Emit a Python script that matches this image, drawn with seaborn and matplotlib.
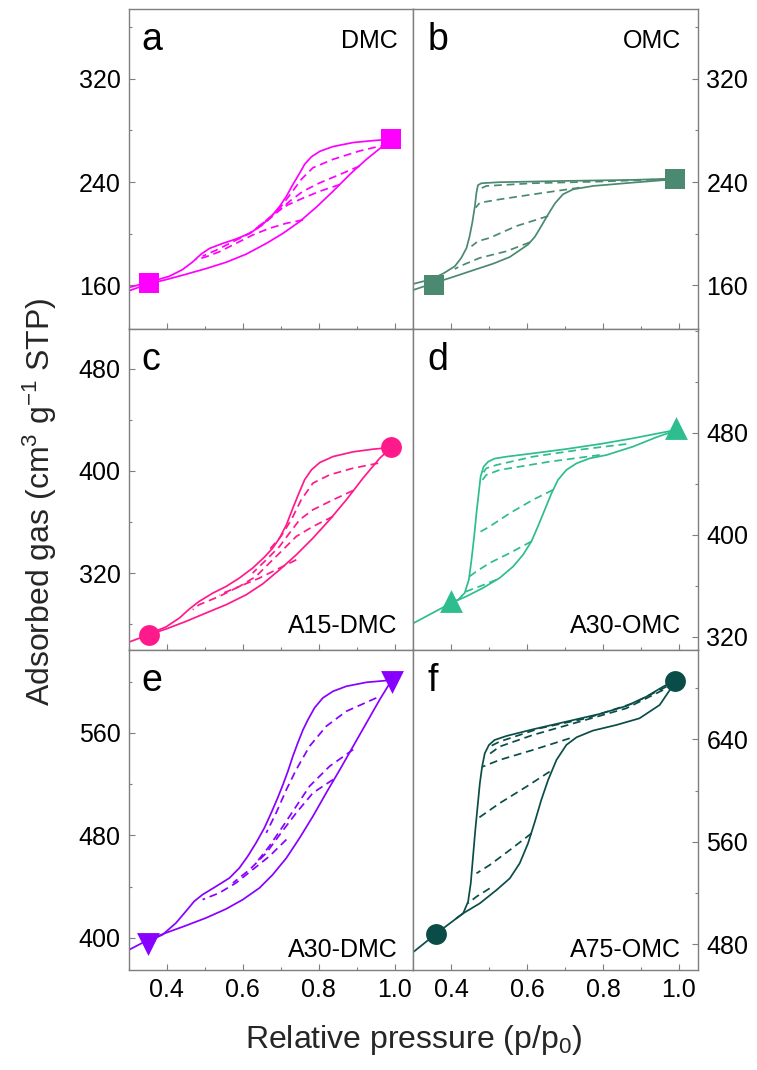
import matplotlib
matplotlib.use("Agg")
import matplotlib.pyplot as plt
import seaborn as sns
from matplotlib.ticker import MultipleLocator, FixedLocator, FormatStrFormatter

# ---------------- data ----------------
# (a) DMC
a_ads_p = [0.298, 0.352, 0.397, 0.450, 0.503, 0.556, 0.609, 0.662, 0.706, 0.750, 0.794, 0.838, 0.882, 0.926, 0.961, 0.992]
a_ads_v = [155.6, 161.3, 164.4, 168.6, 173.0, 177.9, 184.2, 192.5, 200.3, 209.4, 220.6, 232.9, 245.9, 257.6, 265.9, 273.2]
a_des_p = [0.992, 0.944, 0.891, 0.838, 0.803, 0.781, 0.763, 0.748, 0.732, 0.715, 0.697, 0.675, 0.648, 0.618, 0.582, 0.547, 0.512, 0.490, 0.468, 0.441, 0.406, 0.353, 0.298]
a_des_v = [273.2, 272.1, 270.6, 267.5, 263.8, 259.6, 253.7, 245.9, 238.1, 229.0, 221.1, 213.3, 206.1, 200.3, 195.9, 192.5, 188.6, 184.2, 178.2, 172.2, 167.0, 162.6, 158.2]
a_s1_p = [0.983, 0.908, 0.838, 0.785, 0.754, 0.728, 0.701, 0.670, 0.635]
a_s1_v = [269.3, 264.1, 257.6, 251.1, 242.0, 231.6, 221.1, 212.0, 204.2]
a_s2_p = [0.908, 0.856, 0.803, 0.759, 0.723, 0.688, 0.657, 0.626, 0.591]
a_s2_v = [252.4, 245.9, 239.4, 232.9, 225.0, 215.9, 208.1, 201.6, 196.4]
a_s3_p = [0.856, 0.803, 0.759, 0.719, 0.684, 0.653, 0.618, 0.574, 0.530, 0.494]
a_s3_v = [238.1, 232.9, 227.6, 222.4, 215.9, 208.1, 200.3, 193.8, 187.3, 182.6]
a_s4_p = [0.759, 0.715, 0.670, 0.626, 0.582, 0.538, 0.503, 0.477]
a_s4_v = [210.7, 208.1, 204.2, 199.0, 192.5, 186.0, 182.1, 180.0]
a_mk_p = [0.352, 0.992]
a_mk_v = [161.8, 273.7]

# (b) OMC
b_ads_p = [0.301, 0.354, 0.404, 0.457, 0.510, 0.554, 0.580, 0.602, 0.620, 0.637, 0.655, 0.673, 0.694, 0.721, 0.774, 0.879, 0.990]
b_ads_v = [156.6, 161.8, 166.5, 171.7, 176.8, 182.0, 187.2, 191.6, 197.6, 205.9, 215.0, 223.5, 230.5, 234.4, 237.0, 239.6, 242.2]
b_des_p = [0.990, 0.879, 0.703, 0.527, 0.479, 0.470, 0.466, 0.462, 0.455, 0.448, 0.440, 0.426, 0.409, 0.378, 0.343, 0.301]
b_des_v = [242.7, 241.7, 240.9, 239.9, 239.1, 237.6, 231.8, 221.5, 208.5, 198.1, 189.0, 181.3, 174.8, 169.1, 164.4, 161.3]
b_s1_p = [0.967, 0.791, 0.615, 0.492, 0.473]
b_s1_v = [242.2, 240.4, 239.1, 237.0, 234.4]
b_s2_p = [0.738, 0.615, 0.527, 0.475, 0.464]
b_s2_v = [235.7, 230.5, 226.6, 224.0, 220.2]
b_s3_p = [0.655, 0.571, 0.501, 0.470, 0.453]
b_s3_v = [213.7, 205.9, 196.8, 194.2, 190.3]
b_s4_p = [0.607, 0.545, 0.475, 0.422, 0.409]
b_s4_v = [193.4, 186.4, 181.3, 174.8, 172.7]
b_mk_p = [0.354, 0.990]
b_mk_v = [160.0, 242.2]

# (c) A15-DMC
c_ads_p = [0.298, 0.352, 0.397, 0.450, 0.503, 0.556, 0.609, 0.653, 0.697, 0.741, 0.785, 0.829, 0.873, 0.917, 0.961, 0.990]
c_ads_v = [265.7, 271.7, 276.1, 282.1, 288.7, 295.2, 303.0, 311.6, 322.6, 334.3, 347.4, 361.8, 377.4, 394.4, 410.0, 417.9]
c_des_p = [0.990, 0.944, 0.891, 0.838, 0.803, 0.781, 0.763, 0.748, 0.732, 0.715, 0.697, 0.679, 0.657, 0.626, 0.591, 0.556, 0.521, 0.485, 0.459, 0.433, 0.397, 0.352]
c_des_v = [418.4, 417.1, 415.0, 411.3, 406.6, 400.9, 393.1, 382.6, 370.9, 357.8, 347.4, 339.6, 332.5, 323.9, 316.1, 309.5, 304.3, 297.8, 291.8, 284.8, 277.7, 272.5]
c_s1_p = [0.957, 0.891, 0.829, 0.785, 0.754, 0.728, 0.701, 0.670]
c_s1_v = [406.1, 402.2, 397.0, 390.5, 377.4, 361.8, 348.9, 338.3]
c_s2_p = [0.891, 0.838, 0.785, 0.750, 0.723, 0.697, 0.662, 0.626]
c_s2_v = [384.7, 377.4, 369.6, 361.8, 351.3, 340.9, 330.4, 320.0]
c_s3_p = [0.838, 0.785, 0.741, 0.706, 0.670, 0.635, 0.591, 0.538]
c_s3_v = [364.4, 356.5, 348.7, 338.3, 327.8, 317.4, 309.5, 303.0]
c_s4_p = [0.741, 0.697, 0.644, 0.591, 0.538, 0.485, 0.468]
c_s4_v = [330.4, 323.9, 316.1, 309.5, 301.7, 295.2, 291.3]
c_mk_p = [0.352, 0.990]
c_mk_v = [271.7, 418.4]

# (d) A30-OMC
d_ads_p = [0.301, 0.400, 0.440, 0.483, 0.527, 0.563, 0.589, 0.611, 0.628, 0.646, 0.664, 0.681, 0.703, 0.730, 0.765, 0.809, 0.879, 0.940, 0.991]
d_ads_v = [330.9, 346.6, 351.8, 358.3, 366.1, 375.2, 384.4, 394.8, 406.5, 419.5, 432.6, 443.0, 450.8, 456.0, 459.9, 462.5, 469.1, 476.4, 481.6]
d_des_p = [0.991, 0.932, 0.879, 0.791, 0.703, 0.615, 0.545, 0.514, 0.497, 0.485, 0.477, 0.472, 0.466, 0.460, 0.453, 0.446, 0.435, 0.418, 0.400]
d_des_v = [482.1, 478.7, 475.6, 471.1, 467.2, 463.8, 461.2, 459.7, 457.3, 453.4, 445.6, 432.6, 416.9, 398.7, 380.5, 364.8, 354.4, 349.2, 346.6]
d_s1_p = [0.861, 0.747, 0.615, 0.519, 0.492, 0.483]
d_s1_v = [471.1, 467.0, 461.2, 454.7, 452.1, 448.2]
d_s2_p = [0.791, 0.659, 0.527, 0.492, 0.482]
d_s2_v = [462.5, 457.3, 450.8, 446.9, 443.0]
d_s3_p = [0.668, 0.615, 0.554, 0.501, 0.470]
d_s3_v = [435.2, 427.4, 416.9, 406.5, 401.3]
d_s4_p = [0.611, 0.554, 0.501, 0.466, 0.448]
d_s4_v = [394.8, 385.7, 377.9, 371.3, 367.4]
d_s5_p = [0.519, 0.475, 0.440, 0.426]
d_s5_v = [364.8, 359.6, 355.7, 351.8]
d_mk_p = [0.400, 0.993]
d_mk_v = [347.9, 483.4]

# (e) A30-DMC
e_ads_p = [0.298, 0.352, 0.397, 0.450, 0.503, 0.556, 0.600, 0.644, 0.679, 0.715, 0.750, 0.785, 0.820, 0.856, 0.891, 0.926, 0.961, 0.988]
e_ads_v = [390.4, 398.7, 403.9, 409.6, 415.6, 422.6, 429.9, 439.0, 449.4, 462.4, 478.1, 495.0, 513.2, 531.4, 549.6, 567.8, 586.0, 599.0]
e_des_p = [0.988, 0.926, 0.873, 0.838, 0.811, 0.789, 0.772, 0.759, 0.745, 0.732, 0.719, 0.706, 0.692, 0.675, 0.657, 0.635, 0.613, 0.591, 0.565, 0.530, 0.494, 0.472, 0.450, 0.424, 0.389, 0.352]
e_des_v = [601.1, 599.5, 596.4, 592.5, 587.3, 579.5, 570.4, 562.6, 552.2, 541.8, 530.1, 519.7, 509.3, 497.6, 485.9, 474.2, 463.7, 454.6, 446.8, 440.3, 433.8, 428.6, 420.8, 411.7, 402.6, 397.4]
e_s1_p = [0.952, 0.873, 0.820, 0.776, 0.741, 0.715, 0.688, 0.662]
e_s1_v = [587.3, 576.9, 565.2, 549.6, 531.4, 515.8, 497.6, 482.0]
e_s2_p = [0.891, 0.829, 0.776, 0.741, 0.706, 0.670, 0.635]
e_s2_v = [547.0, 534.0, 518.4, 502.8, 487.2, 471.6, 458.5]
e_s3_p = [0.838, 0.785, 0.741, 0.701, 0.662, 0.618, 0.574]
e_s3_v = [523.6, 513.2, 497.6, 482.0, 466.3, 453.3, 442.9]
e_s4_p = [0.715, 0.670, 0.626, 0.582, 0.538, 0.494]
e_s4_v = [476.8, 463.7, 453.3, 442.9, 435.1, 429.9]
e_mk_p = [0.351, 0.994]
e_mk_v = [395.6, 599.8]

# (f) A75-OMC
f_ads_p = [0.301, 0.359, 0.396, 0.431, 0.475, 0.519, 0.554, 0.580, 0.602, 0.620, 0.637, 0.655, 0.677, 0.703, 0.730, 0.773, 0.835, 0.896, 0.949, 0.989]
f_ads_v = [474.3, 488.1, 496.4, 504.2, 512.0, 522.4, 531.5, 543.2, 558.8, 575.7, 592.7, 608.3, 623.9, 635.6, 641.6, 646.8, 651.2, 656.4, 666.8, 684.2]
f_des_p = [0.989, 0.958, 0.914, 0.861, 0.791, 0.703, 0.615, 0.545, 0.514, 0.499, 0.488, 0.481, 0.475, 0.469, 0.463, 0.457, 0.451, 0.444, 0.431, 0.413]
f_des_v = [685.8, 681.1, 673.3, 666.0, 659.8, 653.8, 647.8, 642.6, 639.5, 635.6, 629.1, 618.7, 605.7, 587.5, 569.2, 548.4, 527.6, 513.3, 504.2, 500.3]
f_s1_p = [0.967, 0.879, 0.756, 0.633, 0.527, 0.501]
f_s1_v = [681.1, 668.1, 656.4, 648.6, 638.2, 634.3]
f_s2_p = [0.958, 0.861, 0.738, 0.615, 0.527, 0.497]
f_s2_v = [678.5, 664.2, 653.8, 643.4, 634.3, 627.8]
f_s3_p = [0.712, 0.615, 0.527, 0.483]
f_s3_v = [640.8, 631.7, 623.9, 618.7]
f_s4_p = [0.659, 0.598, 0.527, 0.470]
f_s4_v = [614.8, 603.1, 590.1, 578.3]
f_s5_p = [0.611, 0.554, 0.501, 0.466]
f_s5_v = [566.6, 553.6, 541.9, 535.4]
f_s6_p = [0.501, 0.466, 0.444]
f_s6_v = [523.7, 517.2, 512.0]
f_mk_p = [0.359, 0.989]
f_mk_v = [488.1, 685.8]

panel_letters = ["a", "b", "c", "d", "e", "f"]
sample_names = ["DMC", "OMC", "A15-DMC", "A30-OMC", "A30-DMC", "A75-OMC"]
colors = ["#ff00ff", "#4b8970", "#ff1a8c", "#2dbd8e", "#8800ff", "#0a4d48"]
markers = ["s", "s", "o", "^", "v", "o"]
marker_area = [190, 190, 225, 270, 270, 225]
ylims = [(126, 374), (126, 374), (260, 511), (310, 561), (375, 625), (460, 710)]
y_major_ticks = [[160, 240, 320], [160, 240, 320], [320, 400, 480],
                 [320, 400, 480], [400, 480, 560], [480, 560, 640]]

panels = [
    ([(a_ads_p, a_ads_v, False), (a_des_p, a_des_v, False), (a_s1_p, a_s1_v, True),
      (a_s2_p, a_s2_v, True), (a_s3_p, a_s3_v, True), (a_s4_p, a_s4_v, True)], a_mk_p, a_mk_v),
    ([(b_ads_p, b_ads_v, False), (b_des_p, b_des_v, False), (b_s1_p, b_s1_v, True),
      (b_s2_p, b_s2_v, True), (b_s3_p, b_s3_v, True), (b_s4_p, b_s4_v, True)], b_mk_p, b_mk_v),
    ([(c_ads_p, c_ads_v, False), (c_des_p, c_des_v, False), (c_s1_p, c_s1_v, True),
      (c_s2_p, c_s2_v, True), (c_s3_p, c_s3_v, True), (c_s4_p, c_s4_v, True)], c_mk_p, c_mk_v),
    ([(d_ads_p, d_ads_v, False), (d_des_p, d_des_v, False), (d_s1_p, d_s1_v, True),
      (d_s2_p, d_s2_v, True), (d_s3_p, d_s3_v, True), (d_s4_p, d_s4_v, True),
      (d_s5_p, d_s5_v, True)], d_mk_p, d_mk_v),
    ([(e_ads_p, e_ads_v, False), (e_des_p, e_des_v, False), (e_s1_p, e_s1_v, True),
      (e_s2_p, e_s2_v, True), (e_s3_p, e_s3_v, True), (e_s4_p, e_s4_v, True)], e_mk_p, e_mk_v),
    ([(f_ads_p, f_ads_v, False), (f_des_p, f_des_v, False), (f_s1_p, f_s1_v, True),
      (f_s2_p, f_s2_v, True), (f_s3_p, f_s3_v, True), (f_s4_p, f_s4_v, True),
      (f_s5_p, f_s5_v, True), (f_s6_p, f_s6_v, True)], f_mk_p, f_mk_v),
]

# ---------------- style ----------------
sns.set_theme(style="ticks")
plt.rcParams["font.family"] = ["Liberation Sans", "DejaVu Sans"]
plt.rcParams["mathtext.default"] = "regular"
frame_col = "#7f7f7f"
plt.rcParams["axes.edgecolor"] = frame_col
plt.rcParams["axes.linewidth"] = 1.0

fig, axes = plt.subplots(3, 2, figsize=(7.57, 10.7), dpi=100, sharex=True)
fig.subplots_adjust(left=0.1704, right=0.922, bottom=0.0935, top=0.9916,
                    wspace=0, hspace=0)

for i, ax in enumerate(axes.flat):
    col = i % 2
    curves, mk_p, mk_v = panels[i]
    for p, v, dashed in curves:
        sns.lineplot(x=p, y=v, ax=ax, sort=False, estimator=None,
                     color=colors[i], lw=1.25,
                     linestyle=(0, (4.5, 2.8)) if dashed else "-")
    sns.scatterplot(x=mk_p, y=mk_v, ax=ax, marker=markers[i], s=marker_area[i],
                    color=colors[i], linewidth=0, zorder=5, clip_on=False)

    ax.set_xlim(0.3, 1.05)
    ax.set_ylim(*ylims[i])
    ax.xaxis.set_major_locator(MultipleLocator(0.2))
    ax.xaxis.set_minor_locator(MultipleLocator(0.1))
    ax.xaxis.set_major_formatter(FormatStrFormatter("%.1f"))
    ax.yaxis.set_major_locator(FixedLocator(y_major_ticks[i]))
    ax.yaxis.set_minor_locator(MultipleLocator(40))
    ax.set_xlabel("")
    ax.set_ylabel("")

    ax.tick_params(which="both", direction="in", color=frame_col, width=0.8,
                   top=False, bottom=True, left=(col == 0), right=(col == 1),
                   labelleft=(col == 0), labelright=(col == 1),
                   labelsize=18, labelcolor="black")
    ax.tick_params(which="major", length=4)
    ax.tick_params(which="minor", length=2.5)
    ax.tick_params(axis="x", which="major", pad=6)
    ax.tick_params(axis="y", which="major", pad=6)

    ax.text(0.045 if col == 0 else 0.05, 0.872, panel_letters[i], transform=ax.transAxes,
            fontsize=27, ha="left", va="baseline", color="black")
    if i < 2:
        ax.text(0.945 if col == 0 else 0.94, 0.879, sample_names[i], transform=ax.transAxes,
                fontsize=18, ha="right", va="baseline", color="black")
    else:
        yb = 0.052 if i < 4 else 0.042
        ax.text(0.945 if col == 0 else 0.94, yb, sample_names[i], transform=ax.transAxes,
                fontsize=18, ha="right", va="baseline", color="black")

fig.text(0.053, 0.531, "Adsorbed gas (cm$^3$ g$^{-1}$ STP)", rotation=90,
         fontsize=23, ha="center", va="center")
fig.text(0.546, 0.028, "Relative pressure (p/p$_0$)", fontsize=23,
         ha="center", va="center")

fig.savefig("out.png", dpi=100)
